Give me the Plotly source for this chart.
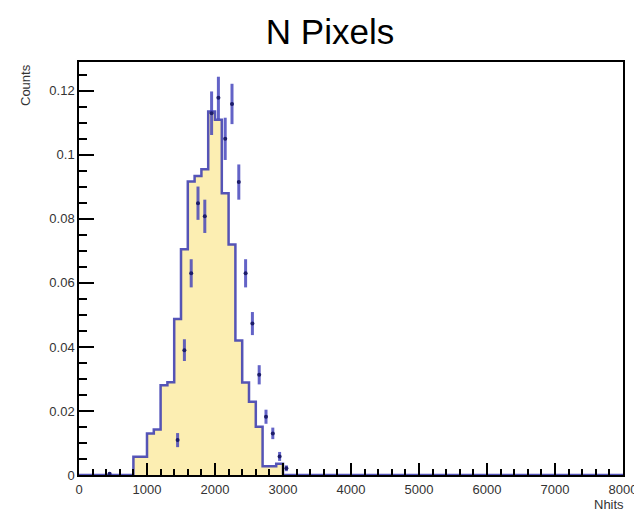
import plotly.graph_objects as go

# Histogram (MC) bin edges and contents
hist_edges = [0, 800, 900, 1000, 1100, 1200, 1300, 1400, 1500, 1600, 1700, 1800,
              1900, 2000, 2100, 2200, 2300, 2400, 2500, 2600, 2700, 2800, 2900, 3000, 8000]
hist_values = [0, 0.0057, 0.0057, 0.0130, 0.0142, 0.0280, 0.0290, 0.0487, 0.0705,
               0.0917, 0.0934, 0.0955, 0.1135, 0.1110, 0.0880, 0.0720, 0.0420,
               0.0289, 0.0229, 0.0151, 0.0027, 0.0027, 0.0035, 0]

# Data points
data_x = [450, 1450, 1550, 1650, 1750, 1850, 1950, 2050, 2150, 2250, 2350,
          2450, 2550, 2650, 2750, 2850, 2950, 3050]
data_y = [0.0004, 0.0109, 0.0390, 0.0630, 0.0849, 0.0808, 0.1130, 0.1178, 0.1050,
          0.1159, 0.0915, 0.0630, 0.0473, 0.0313, 0.0182, 0.0130, 0.0058, 0.0021]
data_err = [0.0004, 0.0022, 0.0034, 0.0044, 0.0052, 0.0052, 0.0068, 0.0066, 0.0066,
            0.0063, 0.0055, 0.0044, 0.0036, 0.0030, 0.0022, 0.0018, 0.0014, 0.0009]

title_text = "N Pixels"
x_title = "Nhits"
y_title = "Counts"

W, H = 634, 515
L, R, T, B = 79, 11, 62, 40
pw, ph = W - L - R, H - T - B

fig = go.Figure()
fig.add_trace(go.Scatter(
    x=hist_edges, y=hist_values + [0], mode="lines", line_shape="hv",
    line=dict(color="rgba(55,55,175,0.85)", width=2.5),
    fill="tozeroy", fillcolor="#FCEEB2", showlegend=False, hoverinfo="skip"))
fig.add_trace(go.Scatter(
    x=data_x, y=data_y, mode="markers",
    marker=dict(symbol="circle", size=4, color="#1c1c6a"),
    error_y=dict(type="data", array=data_err, visible=True, thickness=3,
                 width=0, color="rgba(60,60,185,0.8)"),
    showlegend=False))

tickfont = dict(family="Liberation Sans, Arial, sans-serif", size=13, color="#333333")
fig.update_layout(
    width=W, height=H,
    margin=dict(l=L, r=R, t=T, b=B),
    paper_bgcolor="white", plot_bgcolor="white",
    title=dict(text=title_text, xref="paper", x=(330 - L) / pw, xanchor="center",
               yref="container", y=1 - 32 / H, yanchor="middle",
               font=dict(family="Liberation Sans, Arial, sans-serif", size=35, color="black")),
    xaxis=dict(range=[0, 8000], dtick=1000, tick0=0, showgrid=False, zeroline=False,
               showline=True, mirror=True, linecolor="black", linewidth=1.5,
               ticks="inside", ticklen=12, tickwidth=1.5, tickcolor="black",
               ticklabeloverflow="allow", ticklabelstandoff=2, automargin=False,
               minor=dict(ticks="inside", ticklen=6, dtick=200, tickwidth=1.5, tickcolor="black"),
               tickfont=tickfont),
    yaxis=dict(range=[0, 0.129], dtick=0.02, tick0=0, showgrid=False, zeroline=False,
               showline=True, mirror=True, linecolor="black", linewidth=1.5,
               ticks="inside", ticklen=15, tickwidth=1.5, tickcolor="black",
               automargin=False,
               minor=dict(ticks="inside", ticklen=8, dtick=0.005, tickwidth=1.5, tickcolor="black"),
               tickfont=tickfont),
    annotations=[
        dict(text=x_title, xref="paper", yref="paper", x=(626 - L) / pw, y=(475 - 504) / ph,
             xanchor="right", yanchor="middle", showarrow=False,
             font=dict(family="Liberation Sans, Arial, sans-serif", size=13, color="#333333")),
        dict(text=y_title, xref="paper", yref="paper", x=(25 - L) / pw, y=1.0,
             xanchor="center", yanchor="top", textangle=-90, showarrow=False,
             font=dict(family="Liberation Sans, Arial, sans-serif", size=13, color="#333333")),
    ],
)

fig.write_html("out.html")
